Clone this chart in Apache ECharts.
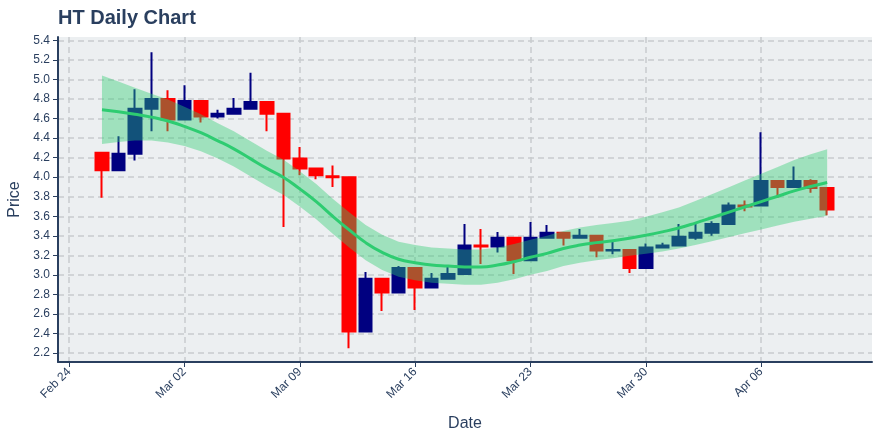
<!DOCTYPE html>
<html>
<head>
<meta charset="utf-8">
<title>HT Daily Chart</title>
<script src="https://cdn.jsdelivr.net/npm/echarts@6/dist/echarts.min.js"></script>
<style>
  html, body { margin: 0; padding: 0; background: #fff; }
  #chart { width: 880px; height: 440px; }
</style>
</head>
<body>
<div id="chart"></div>
<script>
// daily candles
const dates = [
  "2020-02-26", "2020-02-27", "2020-02-28", "2020-02-29",
  "2020-03-01", "2020-03-02", "2020-03-03", "2020-03-04", "2020-03-05", "2020-03-06", "2020-03-07",
  "2020-03-08", "2020-03-09", "2020-03-10", "2020-03-11", "2020-03-12", "2020-03-13", "2020-03-14",
  "2020-03-15", "2020-03-16", "2020-03-17", "2020-03-18", "2020-03-19", "2020-03-20", "2020-03-21",
  "2020-03-22", "2020-03-23", "2020-03-24", "2020-03-25", "2020-03-26", "2020-03-27", "2020-03-28",
  "2020-03-29", "2020-03-30", "2020-03-31", "2020-04-01", "2020-04-02", "2020-04-03", "2020-04-04",
  "2020-04-05", "2020-04-06", "2020-04-07", "2020-04-08", "2020-04-09", "2020-04-10"
];
const openP = [
  4.25, 4.07, 4.24, 4.70, 4.80, 4.59, 4.78, 4.62, 4.65, 4.70, 4.77,
  4.65, 4.19, 4.09, 4.01, 4.00, 2.42, 2.96, 2.82, 3.07, 2.87, 2.96,
  3.01, 3.30, 3.29, 3.38, 3.15, 3.38, 3.43, 3.38, 3.40, 3.25, 3.255,
  3.07, 3.28, 3.30, 3.38, 3.43, 3.52, 3.71, 3.71, 3.96, 3.90, 3.96, 3.89
];
const highP = [
  4.25, 4.42, 4.90, 5.28, 4.89, 4.94, 4.78, 4.69, 4.81, 5.07, 4.77,
  4.65, 4.31, 4.09, 4.12, 4.00, 3.03, 2.96, 3.09, 3.07, 3.02, 3.08,
  3.52, 3.47, 3.44, 3.38, 3.54, 3.51, 3.43, 3.47, 3.40, 3.34, 3.26,
  3.32, 3.33, 3.52, 3.52, 3.55, 3.74, 3.76, 4.46, 3.96, 4.11, 3.98, 3.89
];
const lowP = [
  3.79, 4.07, 4.17, 4.47, 4.47, 4.58, 4.56, 4.60, 4.65, 4.70, 4.47,
  3.49, 4.02, 3.98, 3.90, 2.25, 2.42, 2.63, 2.82, 2.64, 2.87, 2.96,
  3.01, 3.11, 3.23, 3.01, 3.15, 3.38, 3.30, 3.38, 3.18, 3.21, 3.02,
  3.07, 3.28, 3.30, 3.36, 3.40, 3.52, 3.65, 3.71, 3.79, 3.90, 3.84, 3.61
];
const closeP = [
  4.07, 4.24, 4.70, 4.80, 4.59, 4.78, 4.62, 4.65, 4.70, 4.77, 4.65,
  4.19, 4.09, 4.02, 4.00, 2.42, 2.96, 2.82, 3.07, 2.87, 2.96, 3.01,
  3.30, 3.29, 3.38, 3.15, 3.38, 3.43, 3.38, 3.40, 3.25, 3.255, 3.07,
  3.28, 3.30, 3.39, 3.43, 3.52, 3.71, 3.70, 3.96, 3.90, 3.96, 3.89, 3.67
];

// smoothed trend and its band
const trend = [
  4.69, 4.67, 4.645, 4.615, 4.575, 4.52, 4.455, 4.375, 4.29, 4.19, 4.09,
  4.00, 3.88, 3.75, 3.60, 3.46, 3.33, 3.23, 3.16, 3.125, 3.10, 3.09,
  3.08, 3.08, 3.10, 3.135, 3.18, 3.22, 3.27, 3.305, 3.33, 3.35, 3.375,
  3.405, 3.44, 3.48, 3.53, 3.585, 3.64, 3.695, 3.75, 3.805, 3.86, 3.905, 3.945
];
const bandUpper = [
  5.04, 4.98, 4.915, 4.855, 4.795, 4.72, 4.645, 4.555, 4.47, 4.37, 4.27,
  4.18, 4.06, 3.93, 3.78, 3.64, 3.51, 3.41, 3.34, 3.305, 3.28, 3.27,
  3.26, 3.26, 3.28, 3.315, 3.36, 3.40, 3.45, 3.485, 3.51, 3.53, 3.555,
  3.595, 3.64, 3.69, 3.755, 3.825, 3.895, 3.965, 4.035, 4.105, 4.175, 4.235, 4.285
];
const bandLower = [
  4.34, 4.36, 4.375, 4.375, 4.355, 4.32, 4.265, 4.195, 4.11, 4.01, 3.91,
  3.82, 3.70, 3.57, 3.42, 3.28, 3.15, 3.05, 2.98, 2.945, 2.92, 2.91,
  2.90, 2.90, 2.92, 2.955, 3.00, 3.04, 3.09, 3.125, 3.15, 3.17, 3.195,
  3.215, 3.24, 3.27, 3.305, 3.345, 3.385, 3.425, 3.465, 3.505, 3.545, 3.575, 3.605
];

// axis ticks
const xTickDates = ["2020-02-24", "2020-03-02", "2020-03-09", "2020-03-16", "2020-03-23", "2020-03-30", "2020-04-06"];
const yTicks = [2.2, 2.4, 2.6, 2.8, 3.0, 3.2, 3.4, 3.6, 3.8, 4.0, 4.2, 4.4, 4.6, 4.8, 5.0, 5.2, 5.4];

const DAY = 86400000;
const base = Date.parse("2020-02-24");
const dayOf = (d) => (Date.parse(d) - base) / DAY;
const months = ["Jan", "Feb", "Mar", "Apr", "May", "Jun", "Jul", "Aug", "Sep", "Oct", "Nov", "Dec"];
const fmtDay = (v) => {
  const d = new Date(base + Math.round(v) * DAY);
  return months[d.getUTCMonth()] + " " + String(d.getUTCDate()).padStart(2, "0");
};

const xs = dates.map(dayOf);
const candles = xs.map((x, i) => [x, openP[i], closeP[i], lowP[i], highP[i]]);
const bandData = xs.map((x, i) => [x, bandUpper[i], bandLower[i]]);
const trendPts = xs.map((x, i) => [x, trend[i]]);

// whole band as one polygon: upper edge forward, lower edge back
function renderBand(params, api) {
  if (params.dataIndex !== 0) return;
  const top = bandData.map((d) => api.coord([d[0], d[1]]));
  const bottom = bandData.map((d) => api.coord([d[0], d[2]])).reverse();
  return {
    type: "polygon",
    shape: { points: top.concat(bottom) },
    style: { fill: "rgba(46,204,113,0.4)" }
  };
}

const font = "'Liberation Sans', Arial, sans-serif";
const ink = "#2a3f5f";
const gridLine = { color: "#c8cbce", type: [6, 4], width: 1.5 };

const chart = echarts.init(document.getElementById("chart"));
chart.setOption({
  animation: false,
  backgroundColor: "#ffffff",
  textStyle: { fontFamily: font },
  title: {
    text: "HT Daily Chart",
    left: 53,
    top: 3,
    textStyle: { fontSize: 20, fontWeight: "bold", color: ink, fontFamily: font }
  },
  grid: {
    left: 58, right: 8, top: 37, bottom: 78,
    outerBoundsMode: "none",
    containLabel: false,
    show: true, backgroundColor: "#eceff1", borderWidth: 0
  },
  xAxis: {
    type: "value",
    min: -0.668,
    max: 48.72,
    name: "Date",
    nameLocation: "middle",
    nameGap: 54,
    nameTextStyle: { fontSize: 16, color: ink, fontFamily: font },
    axisLine: { show: true, onZero: false, lineStyle: { color: ink, width: 2 } },
    axisTick: { show: true, customValues: xTickDates.map(dayOf), length: 5, lineStyle: { color: ink, width: 1 } },
    axisLabel: { customValues: xTickDates.map(dayOf), rotate: 45, margin: 8, fontSize: 12, color: ink, fontFamily: font, formatter: fmtDay },
    splitLine: { show: true, lineStyle: gridLine }
  },
  yAxis: {
    type: "value",
    min: 2.108,
    max: 5.435,
    name: "Price",
    nameLocation: "middle",
    nameGap: 33,
    nameTextStyle: { fontSize: 16, color: ink, fontFamily: font },
    axisLine: { show: true, onZero: false, lineStyle: { color: ink, width: 2 } },
    axisTick: { show: true, customValues: yTicks, length: 5, lineStyle: { color: ink, width: 1 } },
    axisLabel: { customValues: yTicks, margin: 8, fontSize: 12, color: ink, fontFamily: font, formatter: (v) => v.toFixed(1) },
    splitLine: { show: true, lineStyle: gridLine }
  },
  series: [
    {
      type: "candlestick",
      data: candles,
      encode: { x: 0, y: [1, 2, 3, 4] },
      barMinWidth: 13,
      barMaxWidth: 13,
      z: 2,
      itemStyle: {
        color: "#000080",
        color0: "#ff0000",
        borderColor: "#000080",
        borderColor0: "#ff0000",
        borderWidth: 2
      }
    },
    {
      type: "custom",
      data: bandData,
      encode: { x: 0, y: [1, 2] },
      renderItem: renderBand,
      silent: true,
      z: 3
    },
    {
      type: "line",
      data: trendPts,
      symbol: "none",
      smooth: true,
      lineStyle: { color: "#2ecc71", width: 3 },
      z: 4
    }
  ]
});
</script>
</body>
</html>
